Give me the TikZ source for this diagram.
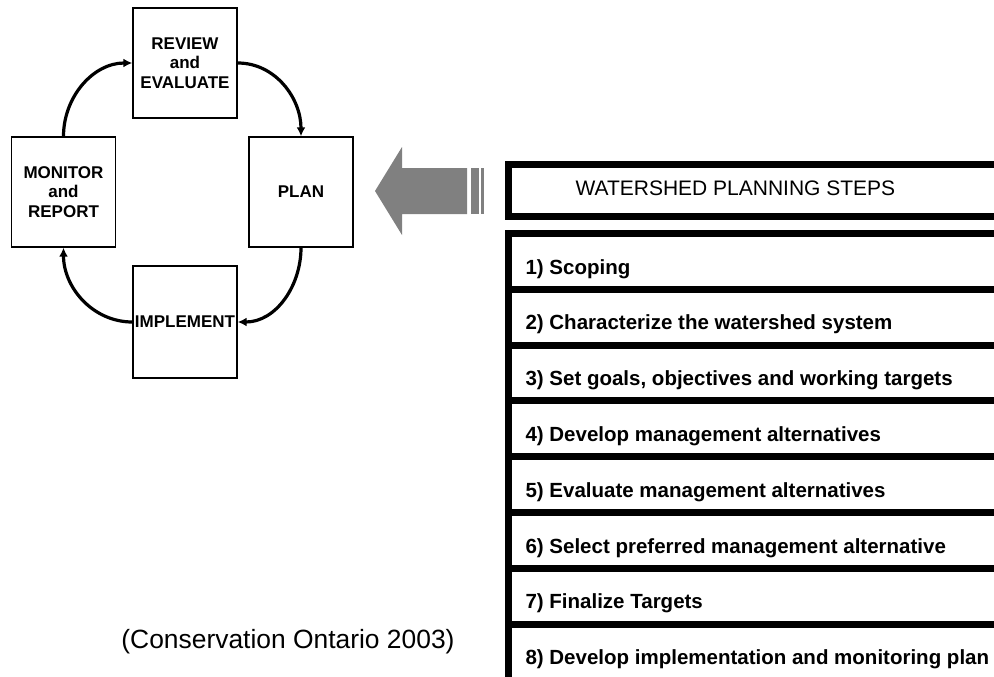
\documentclass[tikz,border=0pt]{standalone}
\usepackage{fontspec}
\setmainfont{Liberation Sans}
\usetikzlibrary{arrows.meta}
\definecolor{arrowgray}{RGB}{128,128,128}
\tikzset{
	cyclebox/.style={draw, line width=1.4pt, minimum width=104pt, minimum height=110pt, inner sep=0pt, align=center, font=\fontsize{17}{19.5}\selectfont\bfseries},
	cyclearrow/.style={line width=3.2pt, -{Latex[length=9pt,width=9pt]}},
	tableline/.style={line width=7pt},
	steptext/.style={anchor=base west, font=\fontsize{20.5}{24}\selectfont\bfseries}
}

\begin{document}
\begin{tikzpicture}[x=1pt, y=-1pt]
		%%%%% START %%%%%
		\useasboundingbox (0, 0) rectangle (994, 677);
		\clip (0, 0) rectangle (994, 677);
		
		% the cycle
		\node[cyclebox] (review) at (185, 63) {REVIEW\\and\\EVALUATE};
		\node[cyclebox] (monitor) at (63.5, 192) {MONITOR\\and\\REPORT};
		\node[cyclebox] (plan) at (301, 192) {PLAN};
		\node[cyclebox, minimum height=112pt] (implement) at (185, 322) {IMPLEMENT};
		
		\draw[cyclearrow] (monitor.north) to[out=90, in=180] (review.west);
		\draw[cyclearrow] (review.east) to[out=0, in=90] (plan.north);
		\draw[cyclearrow] (plan.south) to[out=-90, in=0] (implement.east);
		\draw[cyclearrow] (implement.west) to[out=180, in=-90] (monitor.south);
		
		\node[font=\fontsize{26.4}{30}\selectfont] (source) at (288, 642) {(Conservation Ontario 2003)};
		
		% big gray arrow
		\fill[arrowgray] (375, 191) -- (402, 147) -- (402, 168) -- (467, 168) -- (467, 214) -- (402, 214) -- (402, 235) -- cycle;
		\fill[arrowgray] (470.5, 168) rectangle (478.5, 214);
		\fill[arrowgray] (480.5, 168) rectangle (484, 214);
		
		% header
		\draw[tableline] (1010, 164.5) -- (508.5, 164.5) -- (508.5, 216.5) -- (1010, 216.5);
		\node[anchor=base west, font=\fontsize{21}{24}\selectfont] (header) at (572, 195.7) {WATERSHED PLANNING STEPS};
		
		% steps
		\draw[tableline] (1010, 233.5) -- (508.5, 233.5) -- (508.5, 700);
		\draw[tableline] (508.5, 289.3) -- (1010, 289.3);
		\draw[tableline] (508.5, 345.1) -- (1010, 345.1);
		\draw[tableline] (508.5, 400.9) -- (1010, 400.9);
		\draw[tableline] (508.5, 456.7) -- (1010, 456.7);
		\draw[tableline] (508.5, 512.5) -- (1010, 512.5);
		\draw[tableline] (508.5, 568.3) -- (1010, 568.3);
		\draw[tableline] (508.5, 624.1) -- (1010, 624.1);
		
		\node[steptext] (step1) at (522, 274) {1) Scoping};
		\node[steptext] (step2) at (522, 329.8) {2) Characterize the watershed system};
		\node[steptext] (step3) at (522, 385.6) {3) Set goals, objectives and working targets};
		\node[steptext] (step4) at (522, 441.4) {4) Develop management alternatives};
		\node[steptext] (step5) at (522, 497.2) {5) Evaluate management alternatives};
		\node[steptext] (step6) at (522, 553) {6) Select preferred management alternative};
		\node[steptext] (step7) at (522, 608.8) {7) Finalize Targets};
		\node[steptext] (step8) at (522, 664.6) {8) Develop implementation and monitoring plan};
		
		%%%%% END %%%%%
\end{tikzpicture}
\end{document}
